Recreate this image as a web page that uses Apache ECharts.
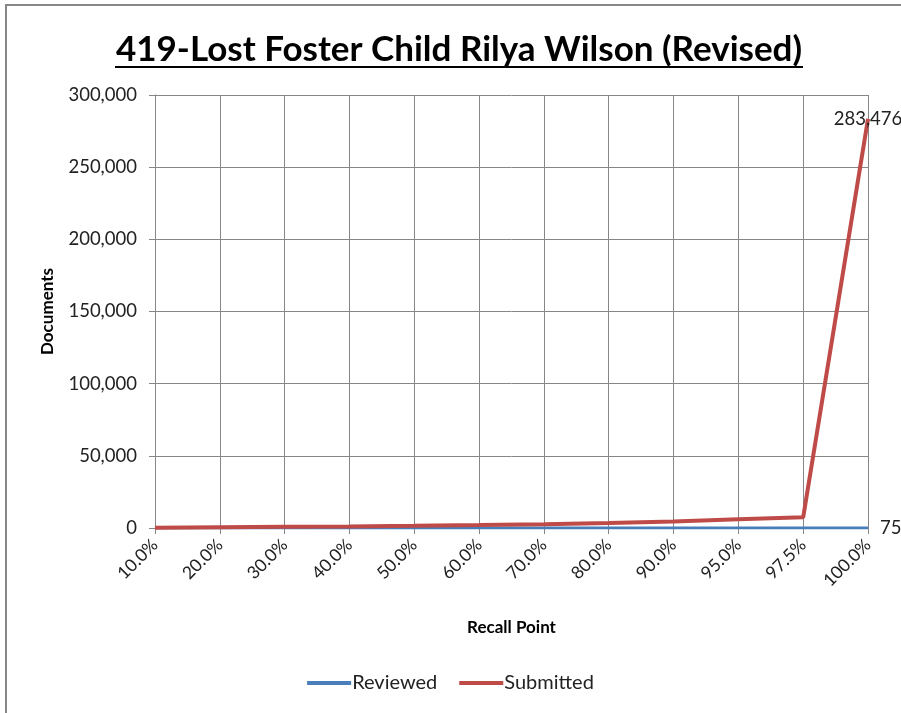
<!DOCTYPE html>
<html>
<head>
<meta charset="utf-8">
<script src="https://cdn.jsdelivr.net/npm/echarts@6/dist/echarts.min.js"></script>
<style>
html,body{margin:0;padding:0;background:#fff;}
#c{width:901px;height:713px;}
</style>
</head>
<body>
<div id="c"></div>
<script>
const categories = ['10.0%','20.0%','30.0%','40.0%','50.0%','60.0%','70.0%','80.0%','90.0%','95.0%','97.5%','100.0%'];
const reviewed = [8, 15, 23, 30, 38, 45, 53, 60, 68, 71, 73, 75];
const submitted = [200, 500, 800, 1100, 1500, 2000, 2600, 3500, 4500, 6000, 7400, 283476];
const yTicks = { min: 0, max: 300000, interval: 50000 };

const FONT = 'Lato, "Open Sans", sans-serif';
const chart = echarts.init(document.getElementById('c'));
const lastIdx = categories.length - 1;
chart.setOption({
  animation: false,
  backgroundColor: '#fff',
  title: {
    text: '419-Lost Foster Child Rilya Wilson (Revised)',
    left: 454, top: 27, textAlign: 'center',
    textStyle: { fontFamily: FONT, fontSize: 35, fontWeight: 'bold', color: '#000' }
  },
  graphic: [
    { type: 'rect', shape: { x: 6, y: 5, width: 1200, height: 1200 }, style: { fill: 'none', stroke: '#878787', lineWidth: 2 }, silent: true },
    { type: 'line', shape: { x1: 115, y1: 67, x2: 803, y2: 67 }, style: { stroke: '#000', lineWidth: 2 } }
  ],
  legend: {
    bottom: 15, left: 'center',
    itemWidth: 44, itemHeight: 4, itemGap: 22,
    icon: 'rect',
    textStyle: { fontFamily: FONT, fontSize: 20, color: '#222', padding: [0,0,0,-4] },
    data: ['Reviewed', 'Submitted']
  },
  grid: { left: 155, right: 33, top: 95, bottom: 185, containLabel: false },
  xAxis: {
    type: 'category', data: categories, boundaryGap: false,
    name: 'Recall Point', nameLocation: 'middle', nameGap: 91,
    nameTextStyle: { fontFamily: FONT, fontSize: 17, fontWeight: 'bold', color: '#000' },
    axisLine: { lineStyle: { color: '#878787', width: 1 } },
    axisTick: { show: true, alignWithLabel: true, length: 6, lineStyle: { color: '#878787' } },
    axisLabel: { rotate: 45, fontFamily: FONT, fontSize: 17.5, color: '#222', margin: 14, interval: 0 },
    splitLine: { show: true, lineStyle: { color: '#878787', width: 1 } }
  },
  yAxis: {
    type: 'value', min: yTicks.min, max: yTicks.max, interval: yTicks.interval,
    name: 'Documents', nameLocation: 'middle', nameGap: 99, nameRotate: 90,
    nameTextStyle: { fontFamily: FONT, fontSize: 17, fontWeight: 'bold', color: '#000' },
    axisLine: { show: true, lineStyle: { color: '#878787', width: 1 } },
    axisTick: { show: true, length: 6, lineStyle: { color: '#878787' } },
    axisLabel: { fontFamily: FONT, fontSize: 18.5, color: '#222', margin: 18,
      formatter: v => v.toLocaleString('en-US') },
    splitLine: { show: true, lineStyle: { color: '#878787', width: 1 } }
  },
  series: [
    {
      name: 'Reviewed', type: 'line', data: reviewed, showSymbol: true, symbol: 'circle', symbolSize: 0,
      color: '#4A7EBB', lineStyle: { width: 3, color: '#4A7EBB' },
      label: { show: true, position: 'right', distance: 12, fontFamily: FONT, fontSize: 18.5, color: '#222',
        formatter: p => p.dataIndex === lastIdx ? p.value.toLocaleString('en-US') : '' },
      labelLayout: { hideOverlap: false }
    },
    {
      name: 'Submitted', type: 'line', data: submitted, showSymbol: true, symbol: 'circle', symbolSize: 0,
      color: '#BE4B48', lineStyle: { width: 4, color: '#BE4B48' },
      label: { show: true, position: 'inside', fontFamily: FONT, fontSize: 18.5, color: '#222',
        formatter: p => p.dataIndex === lastIdx ? p.value.toLocaleString('en-US') : '' },
      labelLayout: { hideOverlap: false }
    }
  ]
});
</script>
</body>
</html>
